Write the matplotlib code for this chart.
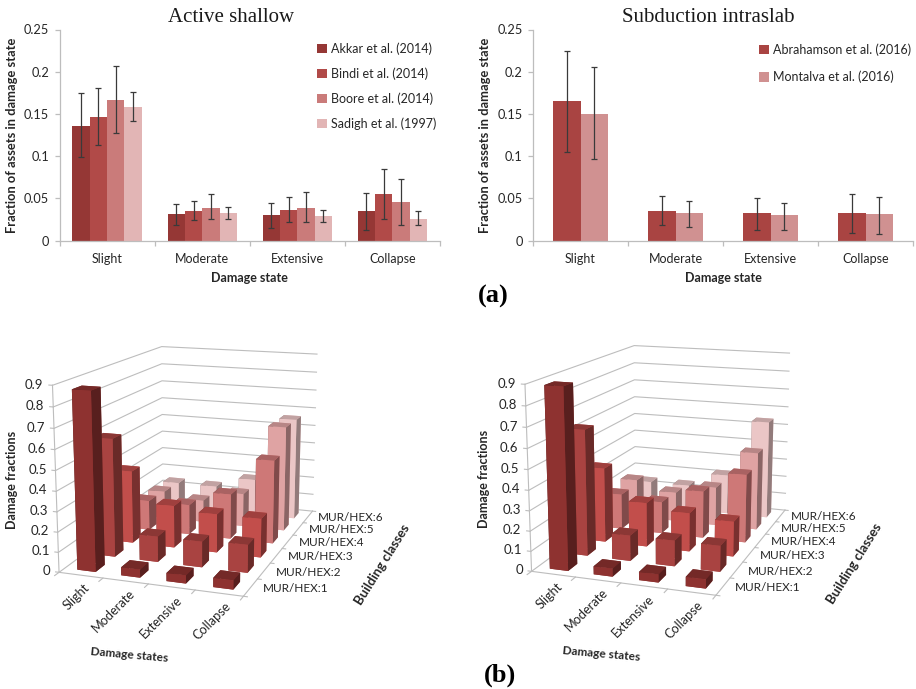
import numpy as np
import matplotlib
matplotlib.use('Agg')
import matplotlib.pyplot as plt
from mpl_toolkits.mplot3d import proj3d

states = ['Slight', 'Moderate', 'Extensive', 'Collapse']
classes = ['MUR/HEX:1', 'MUR/HEX:2', 'MUR/HEX:3', 'MUR/HEX:4', 'MUR/HEX:5', 'MUR/HEX:6']

# panel (a), active shallow
akkar = [0.136, 0.031, 0.030, 0.035]
akkar_lo = [0.099, 0.018, 0.015, 0.013]
akkar_hi = [0.175, 0.043, 0.044, 0.056]
bindi = [0.146, 0.035, 0.036, 0.055]
bindi_lo = [0.113, 0.024, 0.022, 0.025]
bindi_hi = [0.181, 0.047, 0.051, 0.085]
boore = [0.167, 0.039, 0.039, 0.046]
boore_lo = [0.127, 0.025, 0.022, 0.018]
boore_hi = [0.207, 0.055, 0.057, 0.073]
sadigh = [0.158, 0.033, 0.029, 0.026]
sadigh_lo = [0.141, 0.026, 0.022, 0.018]
sadigh_hi = [0.176, 0.040, 0.036, 0.035]

# panel (a), subduction intraslab
abrahamson = [0.165, 0.035, 0.032, 0.033]
abrahamson_lo = [0.105, 0.018, 0.013, 0.009]
abrahamson_hi = [0.225, 0.053, 0.050, 0.055]
montalva = [0.150, 0.032, 0.030, 0.031]
montalva_lo = [0.096, 0.016, 0.012, 0.008]
montalva_hi = [0.205, 0.047, 0.045, 0.051]

# panel (b), one row per building class, one column per damage state
left_3d = [[0.875, 0.04, 0.04, 0.045],
           [0.60, 0.13, 0.13, 0.14],
           [0.38, 0.22, 0.20, 0.20],
           [0.16, 0.16, 0.24, 0.44],
           [0.15, 0.12, 0.18, 0.565],
           [0.14, 0.14, 0.20, 0.56]]
right_3d = [[0.89, 0.04, 0.04, 0.045],
            [0.64, 0.13, 0.13, 0.13],
            [0.39, 0.23, 0.20, 0.18],
            [0.19, 0.17, 0.25, 0.36],
            [0.21, 0.16, 0.21, 0.42],
            [0.14, 0.14, 0.22, 0.54]]

W, H = 916, 689
TXT = '#262626'
GRID = '#BDBDBD'
SANS = 'Lato'
row_colors = ['#8E3230', '#A94341', '#C24E4B', '#CE7877', '#DFA3A3', '#EBC6C6']

fig = plt.figure(figsize=(W / 100, H / 100), dpi=100)


def px_axes(x0, y0, x1, y1, **kw):
    return fig.add_axes([x0 / W, 1 - y1 / H, (x1 - x0) / W, (y1 - y0) / H], **kw)


def bar_panel(ax, series, width, legend_anchor, spacing):
    n = len(series)
    x = np.arange(4) + 0.5
    for i, (vals, lo, hi, color, label) in enumerate(series):
        pos = x + (i - (n - 1) / 2) * width
        ax.bar(pos, vals, width, color=color, label=label)
        err = [np.array(vals) - np.array(lo), np.array(hi) - np.array(vals)]
        ax.errorbar(pos, vals, yerr=err, fmt='none', ecolor='#3a3a3a', elinewidth=0.9,
                    capsize=2.5, capthick=0.9)
    ax.set_xlim(0, 4)
    ax.set_ylim(0, 0.25)
    ax.set_yticks([0, 0.05, 0.1, 0.15, 0.2, 0.25])
    ax.set_yticklabels(['0', '0.05', '0.1', '0.15', '0.2', '0.25'], fontsize=9.2, color=TXT, family=SANS)
    ax.set_xticks(range(5))
    ax.set_xticklabels([])
    ax.set_xticks(x, minor=True)
    ax.set_xticklabels(states, minor=True, fontsize=9, color=TXT, family=SANS)
    ax.tick_params(axis='x', which='minor', length=0, pad=9)
    ax.tick_params(axis='both', which='major', length=3.5, color=GRID, width=0.9, pad=4)
    for s in ['top', 'right']:
        ax.spines[s].set_visible(False)
    for s in ['left', 'bottom']:
        ax.spines[s].set_color(GRID)
        ax.spines[s].set_linewidth(0.9)
    ax.set_xlabel('Damage state', fontsize=9, fontweight='bold', family=SANS, color=TXT, labelpad=5)
    ax.set_ylabel('Fraction of assets in damage state', fontsize=9.3, fontweight='bold',
                  family=SANS, color=TXT, labelpad=4.5)
    ax.legend(loc='upper left', bbox_to_anchor=legend_anchor, frameon=False,
              labelcolor=TXT, prop={'family': SANS, 'size': 9}, handlelength=0.75, handleheight=0.75,
              handletextpad=0.3, labelspacing=spacing, borderpad=0, borderaxespad=0)


def label3d(ax, x, y, z, s, **kw):
    # Text3D drops the rotation, so project the anchor and place a plain text
    xs, ys, _ = proj3d.proj_transform(x, y, z, ax.get_proj())
    ax.text2D(xs, ys, s, transform=ax.transData, fontsize=kw.pop('fontsize', 9.5), color=TXT,
              family=SANS, zorder=50, **kw)


def bar3d_panel(ax, data):
    ax.set_proj_type('persp', focal_length=0.565)
    ax.view_init(elev=13.945, azim=-70.711)
    ax.set_box_aspect((185.01, 276.38, 182.23), zoom=1.0766)
    ax.set_xlim(0, 4)
    ax.set_ylim(0, 6)
    ax.set_zlim(0, 0.9)
    ax.set_axis_off()
    ax.patch.set_alpha(0)
    ax.computed_zorder = False

    # walls
    for z in np.arange(0, 1.0, 0.1):
        ax.plot([0, 0, 4], [0, 6, 6], [z, z, z], color=GRID, lw=0.8, zorder=1)
        ax.plot([-0.08, 0], [0, 0], [z, z], color=GRID, lw=0.8, zorder=1)
        label3d(ax, -0.2, 0, z, '%g' % round(z, 1), ha='right', va='center')
    ax.plot([0, 0], [0, 0], [0, 0.9], color=GRID, lw=0.8, zorder=1)
    ax.plot([0, 4, 4], [0, 0, 6], [0, 0, 0], color=GRID, lw=0.8, zorder=1)
    for i in range(5):
        ax.plot([i, i], [0, -0.2], [0, 0], color=GRID, lw=0.8, zorder=1)
    for j in range(7):
        ax.plot([4, 4.08], [j, j], [0, 0], color=GRID, lw=0.8, zorder=1)

    # bars back to front
    bw, bd = 0.42, 0.46
    for r in range(5, -1, -1):
        for c in range(4):
            col = np.array(matplotlib.colors.to_rgb(row_colors[r]))
            top = col * 0.82
            side = col * 0.62
            faces = [col, top, col, col, side, side]
            ax.bar3d(c + 0.5 - bw / 2, r + 0.5 - bd / 2, 0, bw, bd, data[r][c], color=faces,
                     shade=False, zorder=10 + (5 - r) * 4 + c, linewidth=0)

    for i, name in enumerate(states):
        label3d(ax, i + 0.7, -0.3, 0, name, rotation=45, ha='right', va='top', rotation_mode='anchor',
                fontsize=9.2)
    for j, name in enumerate(classes):
        label3d(ax, 4.25, j + 0.5, 0, name, ha='left', va='center', fontsize=8.5)


ax1 = px_axes(59.5, 29.5, 440, 240.5)
bar_panel(ax1, [(akkar, akkar_lo, akkar_hi, '#953735', 'Akkar et al. (2014)'),
                (bindi, bindi_lo, bindi_hi, '#B14A48', 'Bindi et al. (2014)'),
                (boore, boore_lo, boore_hi, '#CA7B7A', 'Boore et al. (2014)'),
                (sadigh, sadigh_lo, sadigh_hi, '#E2B5B5', 'Sadigh et al. (1997)')],
          0.182, (0.678, 0.94), 1.0)

ax2 = px_axes(533, 29.5, 913, 240.5)
bar_panel(ax2, [(abrahamson, abrahamson_lo, abrahamson_hi, '#A94442', 'Abrahamson et al. (2016)'),
                (montalva, montalva_lo, montalva_hi, '#D09191', 'Montalva et al. (2016)')],
          0.285, (0.596, 0.935), 1.2)

fig.text(231 / W, 1 - 17 / H, 'Active shallow', ha='center', va='center', family='Liberation Serif',
         fontsize=15, color='#1a1a1a')
fig.text(708 / W, 1 - 17 / H, 'Subduction intraslab', ha='center', va='center', family='Liberation Serif',
         fontsize=15, color='#1a1a1a')
fig.text(493 / W, 1 - 296 / H, '(a)', ha='center', va='center', family='Liberation Serif',
         fontweight='bold', fontsize=19, color='black')
fig.text(500 / W, 1 - 675 / H, '(b)', ha='center', va='center', family='Liberation Serif',
         fontweight='bold', fontsize=19, color='black')

ax3 = px_axes(-37.18, 294.84, 422.82, 624.84, projection='3d')
bar3d_panel(ax3, left_3d)
ax4 = px_axes(435.32, 293.84, 895.32, 623.84, projection='3d')
bar3d_panel(ax4, right_3d)

for dx, dy in [(0, 0), (472.5, -1)]:
    fig.text((12 + dx) / W, 1 - (480 + dy) / H, 'Damage fractions', rotation=90, ha='center', va='center',
             fontsize=9, fontweight='bold', family=SANS, color=TXT)
    fig.text((129 + dx) / W, 1 - (655 + dy) / H, 'Damage states', rotation=-5, ha='center', va='center',
             fontsize=8.6, fontweight='bold', family=SANS, color=TXT)
    fig.text((382 + dx) / W, 1 - (565 + dy) / H, 'Building classes', rotation=58, ha='center', va='center',
             fontsize=9.5, fontweight='bold', family=SANS, color=TXT)

fig.savefig('out.png', dpi=100)
